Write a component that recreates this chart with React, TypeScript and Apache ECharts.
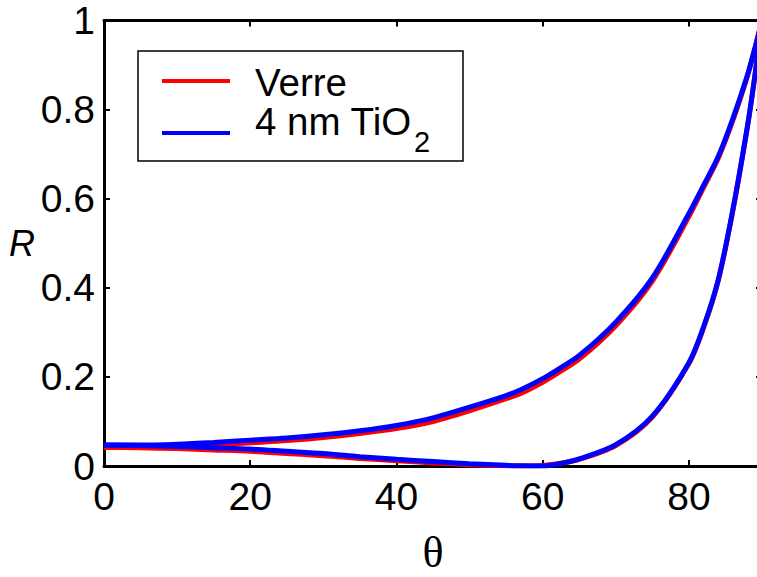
import React, { useEffect, useRef } from "react";
import * as echarts from "echarts";

const angles = [0, 5, 10, 15, 20, 25, 30, 35, 40, 45, 50, 55, 57, 60, 62, 65, 70, 75, 80, 82, 84, 86, 88, 89, 90];

const verreS = [0.042, 0.042, 0.044, 0.047, 0.052, 0.057, 0.064, 0.073, 0.084, 0.100, 0.124, 0.151, 0.163, 0.188, 0.208, 0.240, 0.315, 0.415, 0.560, 0.625, 0.690, 0.775, 0.875, 0.935, 1.0];
const tio2S = [0.047, 0.047, 0.049, 0.053, 0.058, 0.063, 0.070, 0.079, 0.091, 0.108, 0.132, 0.158, 0.171, 0.196, 0.216, 0.248, 0.323, 0.422, 0.567, 0.630, 0.694, 0.779, 0.877, 0.936, 1.0];
const verreP = [0.042, 0.041, 0.039, 0.036, 0.033, 0.028, 0.023, 0.017, 0.012, 0.007, 0.003, 0.0006, 0.0, 0.001, 0.005, 0.015, 0.046, 0.110, 0.230, 0.310, 0.415, 0.572, 0.760, 0.872, 1.0];
const tio2P = [0.047, 0.046, 0.044, 0.041, 0.038, 0.033, 0.028, 0.021, 0.015, 0.010, 0.005, 0.0015, 0.0003, 0.0, 0.004, 0.016, 0.048, 0.112, 0.232, 0.312, 0.417, 0.574, 0.762, 0.873, 1.0];

const xTicks = { min: 0, max: 90, interval: 20 };
const yTicks = { min: 0, max: 1, interval: 0.2 };

const legendLabels = ["Verre", "4 nm TiO", "2"];
const RED = "#ff0000";
const BLUE = "#0000ff";

function pairs(ys: number[]) {
  return angles.map((a, i) => [a, ys[i]]);
}

export default function App() {
  const ref = useRef<HTMLDivElement>(null);
  useEffect(() => {
    if (!ref.current) return;
    const chart = echarts.init(ref.current, null, { renderer: "svg" });
    const font = "'Liberation Sans', Arial, sans-serif";
    const axisLine = { show: true, onZero: false, lineStyle: { color: "#000", width: 3 } };
    const tick = { show: true, inside: true, length: 6, lineStyle: { color: "#000", width: 2 } };
    const lineSeries = (name: string, ys: number[], color: string) => ({
      type: "line",
      name,
      data: pairs(ys),
      smooth: 0.3,
      symbol: "none",
      lineStyle: { color, width: 5 },
      itemStyle: { color },
      z: color === BLUE ? 3 : 2,
    });
    chart.setOption({
      animation: false,
      backgroundColor: "#fff",
      grid: { left: 104, right: 8, top: 20.5, bottom: 111, containLabel: false, outerBoundsMode: "none" },
      xAxis: [
        {
          type: "value",
          ...xTicks,
          position: "bottom",
          axisLine,
          axisTick: tick,
          splitLine: { show: false },
          axisLabel: { color: "#000", fontFamily: font, fontSize: 39, margin: 11, showMaxLabel: false },
          name: "θ",
          nameLocation: "middle",
          nameGap: 64,
          nameTextStyle: { color: "#000", fontFamily: "'Liberation Serif', 'Times New Roman', serif", fontSize: 44, lineHeight: 44 },
        },
        {
          type: "value",
          ...xTicks,
          position: "top",
          axisLine,
          axisTick: tick,
          splitLine: { show: false },
          axisLabel: { show: false },
        },
      ],
      yAxis: [
        {
          type: "value",
          ...yTicks,
          position: "left",
          axisLine,
          axisTick: tick,
          splitLine: { show: false },
          axisLabel: { color: "#000", fontFamily: font, fontSize: 39, margin: 9 },
          name: "R",
          nameLocation: "middle",
          nameRotate: 0,
          nameGap: 69,
          nameTextStyle: { color: "#000", fontFamily: font, fontSize: 36, fontStyle: "italic", padding: [0, 0, 24, 0] },
        },
        {
          type: "value",
          ...yTicks,
          position: "right",
          axisLine,
          axisTick: tick,
          splitLine: { show: false },
          axisLabel: { show: false },
        },
      ],
      series: [
        lineSeries("Verre s", verreS, RED),
        lineSeries("Verre p", verreP, RED),
        lineSeries("TiO2 s", tio2S, BLUE),
        lineSeries("TiO2 p", tio2P, BLUE),
      ],
      graphic: [
        {
          type: "rect",
          shape: { x: 138, y: 51, width: 325, height: 110 },
          style: { fill: "#fff", stroke: "#000", lineWidth: 1.5 },
          z: 10,
        },
        {
          type: "line",
          shape: { x1: 162, y1: 81, x2: 230, y2: 81 },
          style: { stroke: RED, lineWidth: 4 },
          z: 11,
        },
        {
          type: "line",
          shape: { x1: 162, y1: 133, x2: 230, y2: 133 },
          style: { stroke: BLUE, lineWidth: 4 },
          z: 11,
        },
        {
          type: "text",
          x: 255,
          y: 82,
          style: { text: legendLabels[0], fill: "#000", font: `38.5px ${font}`, lineHeight: 34, verticalAlign: "middle" },
          z: 11,
        },
        {
          type: "text",
          x: 255,
          y: 121.5,
          style: { text: legendLabels[1], fill: "#000", font: `38.5px ${font}`, lineHeight: 34, verticalAlign: "middle" },
          z: 11,
        },
        {
          type: "text",
          x: 414,
          y: 142,
          style: { text: legendLabels[2], fill: "#000", font: `29px ${font}`, lineHeight: 26, verticalAlign: "middle" },
          z: 11,
        },
      ],
    });
    return () => chart.dispose();
  }, []);
  return <div ref={ref} style={{ position: "fixed", left: 0, top: 0, width: 770, height: 577 }} />;
}
